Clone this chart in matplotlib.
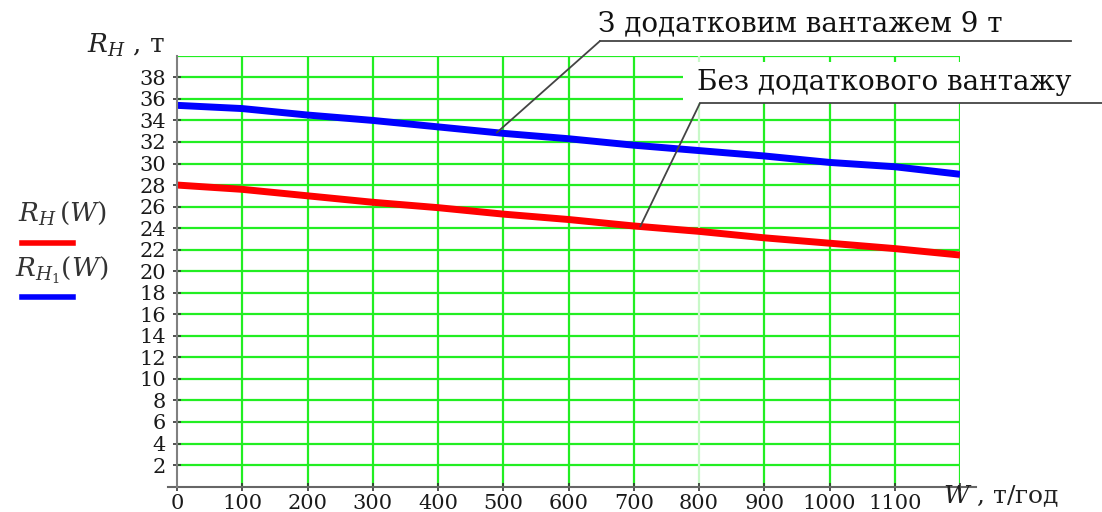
import numpy as np
import matplotlib
matplotlib.use('Agg')
import matplotlib.pyplot as plt
from matplotlib.lines import Line2D
from matplotlib.patches import Rectangle

# W, t/year
w = [0, 100, 200, 300, 400, 500, 600, 700, 800, 900, 1000, 1100, 1200]
# R_H without extra cargo
r_h = [28.0, 27.6, 27.0, 26.4, 25.9, 25.3, 24.8, 24.2, 23.7, 23.1, 22.6, 22.1, 21.5]
# R_H1 with extra cargo 9 t
r_h1 = [35.4, 35.1, 34.5, 34.0, 33.4, 32.8, 32.3, 31.7, 31.2, 30.7, 30.1, 29.7, 29.0]

x_ticks = list(range(0, 1201, 100))
x_labels = ['0', '100', '200', '300', '400', '500', '600', '700', '800', '900', '1000', '1100', '']
y_ticks = list(range(2, 39, 2))

plt.rcParams['font.family'] = ['DejaVu Serif']
plt.rcParams['mathtext.fontset'] = 'dejavuserif'

W, H = 1102, 512
fig = plt.figure(figsize=(W / 100, H / 100), dpi=100)
ax = fig.add_axes([177 / W, 1 - 486.6 / H, (960 - 177) / W, (486.6 - 55.8) / H])

green = '#22ee22'
for y in range(2, 41, 2):
    ax.axhline(y, color=green, lw=1.6, zorder=1)
for x in x_ticks[1:]:
    ax.axvline(x, color='#c8f8c8' if x == 800 else green, lw=1.6, zorder=1)

ax.plot(w, r_h, color='#ff0000', lw=5, solid_capstyle='butt', zorder=3)
ax.plot(w, r_h1, color='#0000ff', lw=5, solid_capstyle='butt', zorder=3)

ax.set_xlim(0, 1200)
ax.set_ylim(0, 40)
ax.set_xticks(x_ticks)
ax.set_xticklabels(x_labels)
ax.set_yticks(y_ticks)
ax.tick_params(axis='both', direction='inout', length=6, width=1.2, color='#333333',
               labelsize=15, labelcolor='#1a1a1a')
ax.tick_params(axis='y', pad=5)
ax.tick_params(axis='x', pad=2)

for s in ['top', 'right', 'bottom']:
    ax.spines[s].set_visible(False)
ax.spines['left'].set_color('#808080')
ax.spines['left'].set_linewidth(1.5)
ax.spines['left'].set_zorder(4)
ax.add_line(Line2D([-0.012, 1.02], [0, 0], transform=ax.transAxes, color='#666666',
                   lw=1.5, clip_on=False, zorder=4))

# axis titles
fig.text(165 / W, 1 - 45 / H, r'$R_H$ , т', ha='right', va='center', fontsize=19, color='#222222')
fig.text(943 / W, 1 - 496 / H, r'$W$ , т/год', ha='left', va='center', fontsize=18, color='#222222')

# legend on the left
fig.text(62 / W, 1 - 213 / H, r'$R_H\,(W)$', ha='center', va='center', fontsize=19, color='#333333')
fig.add_artist(Line2D([22 / W, 73 / W], [1 - 243 / H, 1 - 243 / H], color='#ff0000', lw=4))
fig.text(62 / W, 1 - 270 / H, r'$R_{H_1}(W)$', ha='center', va='center', fontsize=19, color='#333333')
fig.add_artist(Line2D([22 / W, 73 / W], [1 - 297 / H, 1 - 297 / H], color='#0000ff', lw=4))

# callouts
fig.text(598 / W, 1 - 24 / H, 'З додатковим вантажем 9 т', ha='left', va='center',
         fontsize=20, color='#111111')
fig.add_artist(Line2D([600 / W, 1071 / W], [1 - 41 / H, 1 - 41 / H], color='#444444', lw=1.3))
ax.annotate('', xy=(490, np.interp(490, w, r_h1)), xytext=(600 / W, 1 - 41 / H),
            textcoords='figure fraction',
            arrowprops=dict(arrowstyle='-', color='#444444', lw=1.3, shrinkA=0, shrinkB=0),
            annotation_clip=False, zorder=5)

fig.add_artist(Rectangle((683 / W, 1 - 103 / H), (W - 683) / W, 41 / H, transform=fig.transFigure,
                         facecolor='white', edgecolor='none', zorder=2))
fig.text(697 / W, 1 - 83 / H, 'Без додаткового вантажу', ha='left', va='center',
         fontsize=20, color='#111111', zorder=3)
fig.add_artist(Line2D([700 / W, 1102 / W], [1 - 103 / H, 1 - 103 / H], color='#444444', lw=1.3, zorder=3))
ax.annotate('', xy=(710, np.interp(710, w, r_h)), xytext=(700 / W, 1 - 103 / H),
            textcoords='figure fraction',
            arrowprops=dict(arrowstyle='-', color='#444444', lw=1.3, shrinkA=0, shrinkB=0),
            annotation_clip=False, zorder=5)

fig.savefig('out.png', dpi=100)
